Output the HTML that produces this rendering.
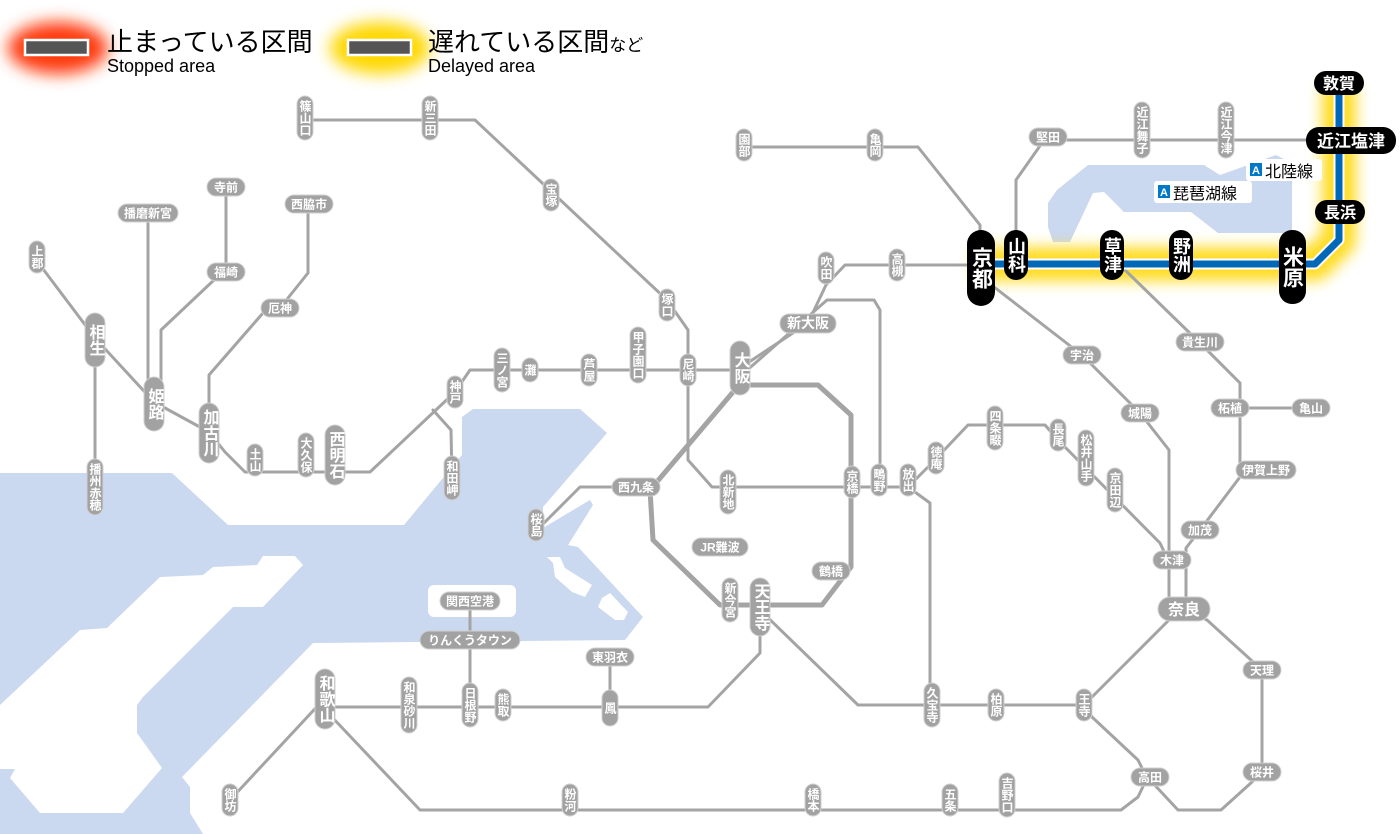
<!DOCTYPE html>
<html><head><meta charset="utf-8">
<style>
html,body{margin:0;padding:0;background:#fff;}
svg{display:block;}
.l{fill:none;stroke:#a4a4a4;stroke-width:3;stroke-linejoin:round;stroke-linecap:round;}
.lp{fill:none;stroke:#a4a4a4;stroke-width:5;stroke-linejoin:round;}
.p{fill:#a2a2a2;stroke:#d0d0d0;stroke-width:1;}
.t{fill:#fff;font-family:"Liberation Sans","Noto Sans CJK JP",sans-serif;font-size:12px;font-weight:bold;text-anchor:middle;}
.v{writing-mode:vertical-rl;}
.T{font-size:16px;}
.b{fill:#000;}
.bt{fill:#fff;font-family:"Liberation Sans","Noto Sans CJK JP",sans-serif;font-weight:bold;text-anchor:middle;}
</style></head><body>
<svg width="1400" height="834" viewBox="0 0 1400 834" xmlns="http://www.w3.org/2000/svg">
<defs>
<filter id="bl" x="-50%" y="-50%" width="200%" height="200%"><feGaussianBlur stdDeviation="7"/></filter>
<filter id="bl2" x="-50%" y="-50%" width="200%" height="200%"><feGaussianBlur stdDeviation="8"/></filter>
</defs>
<!-- sea -->
<polygon fill="#cad8f0" points="0,473 172,473 228,525 404,525 462,455 462,417 473,409 580,409 607,433 543,507 543,528 590,500 593,505 568,545 578,547 643,617 625,640 313,643 182,777 190,787 190,813 203,834 0,834"/>
<polygon fill="#fff" points="263,556 295,556 303,565 263,607 233,607 143,697 137,705 137,733 162,768 123,813 40,813 10,778 15,769 0,769 0,705 80,630 107,628 160,577 203,575 213,567 257,565"/>
<polygon fill="#fff" points="547,557 560,557 565,568 592,585 585,597 572,592 555,577 553,563"/>
<polygon fill="#fff" points="602,598 610,593 628,612 624,620 615,620 598,607"/>
<rect x="428" y="585" width="88" height="32" rx="6" fill="#fff"/>
<!-- lake -->
<polygon fill="#cad8f0" points="1048,227 1048,203 1057,190 1088,165 1204,165 1220,175 1276,155 1292,163 1292,233 1218,233 1191,212 1124,212 1104,192 1093,193 1070,242 1053,242"/>

<!-- legend -->
<ellipse cx="58" cy="48" rx="50" ry="26" fill="#ff3a10" filter="url(#bl2)"/>
<rect x="25" y="40" width="63" height="15" fill="#555" stroke="#fff" stroke-width="2.5"/>
<text x="107" y="51" font-family="'Liberation Sans','Noto Sans CJK JP',sans-serif" font-size="26" fill="#000">止まっている区間</text>
<text x="107" y="72" font-family="'Liberation Sans',sans-serif" font-size="18" fill="#000">Stopped area</text>
<ellipse cx="380" cy="48" rx="50" ry="26" fill="#ffd800" filter="url(#bl2)"/>
<rect x="348" y="40" width="63" height="15" fill="#555" stroke="#fff" stroke-width="2.5"/>
<text x="428" y="51" font-family="'Liberation Sans','Noto Sans CJK JP',sans-serif" font-size="26" fill="#000">遅れている区間<tspan font-size="17">など</tspan></text>
<text x="428" y="72" font-family="'Liberation Sans',sans-serif" font-size="18" fill="#000">Delayed area</text>

<!-- glow for highlighted -->
<path d="M975,264 L1315,264 L1339,240 L1339,85" fill="none" stroke="#ffdc20" stroke-width="34" stroke-linejoin="round" filter="url(#bl)"/>

<!-- gray lines -->
<polyline class="l" points="305,120 475,120 667,300 688,330 688,370"/>
<polyline class="l" points="744,147 918,147 980,225 980,268"/>
<polyline class="l" points="1016,255 1016,180 1042,143 1048,140 1350,140"/>
<polyline class="l" points="980,265 845,265 826,285 808,323 740,368"/>
<polyline class="l" points="745,372 827,300 874,300 880,310 880,487"/>
<polyline class="lp" points="739,385 818,385 851,415 851,567 822,605 720,605 653,540 650,490 739,385"/>
<polyline class="l" points="688,370 688,460 712,487 908,487"/>
<polyline class="l" points="908,487 930,465 968,425 1045,425 1058,440 1160,543 1168,560"/>
<polyline class="l" points="908,487 930,503 930,705"/>
<polyline class="l" points="740,370 470,370 455,392 370,472 245,472 225,452 209,432 154,402 95,338 40,265"/>
<polyline class="l" points="148,402 148,213"/>
<polyline class="l" points="161,400 161,330 214,280 226,272 226,187"/>
<polyline class="l" points="209,432 209,375 263,313 280,308 308,273 308,204"/>
<polyline class="l" points="95,338 95,487"/>
<polyline class="l" points="433,410 451,430 452,478"/>
<polyline class="l" points="636,487 580,487 540,527"/>
<polyline class="l" points="760,605 760,653 708,707 325,707"/>
<polyline class="l" points="470,705 470,601"/>
<polyline class="l" points="610,708 610,657"/>
<polyline class="l" points="325,698 230,800"/>
<polyline class="l" points="330,715 420,810 1121,810 1138,797 1147,778"/>
<polyline class="l" points="1147,778 1138,760 1092,717 1084,705"/>
<polyline class="l" points="1150,780 1178,810 1221,810 1252,782 1262,772 1262,670 1207,620 1184,609"/>
<polyline class="l" points="760,610 858,705 1084,705 1171,618"/>
<polyline class="l" points="985,280 1082,355 1140,413 1169,450 1169,609"/>
<polyline class="l" points="1240,408 1311,408"/>
<polyline class="l" points="1125,270 1200,343 1240,383 1240,477 1200,530 1186,548 1186,609"/>

<!-- highlighted line -->
<path d="M975,264 L1315,264 L1339,240 L1339,85" fill="none" stroke="#fff" stroke-width="11" stroke-linejoin="round"/>
<path d="M975,264 L1315,264 L1339,240 L1339,85" fill="none" stroke="#0068b7" stroke-width="7" stroke-linejoin="round"/>

<!-- small vertical pills -->
<g>
<rect class="p" x="297" y="96" width="16" height="44" rx="8"/><text class="t v" x="305" y="118">篠山口</text>
<rect class="p" x="422" y="96" width="16" height="44" rx="8"/><text class="t v" x="430" y="118">新三田</text>
<rect class="p" x="543" y="179" width="16" height="32" rx="8"/><text class="t v" x="551" y="195">宝塚</text>
<rect class="p" x="736" y="129" width="16" height="32" rx="8"/><text class="t v" x="744" y="145">園部</text>
<rect class="p" x="867" y="129" width="16" height="32" rx="8"/><text class="t v" x="875" y="145">亀岡</text>
<rect class="p" x="29" y="241" width="16" height="32" rx="8"/><text class="t v" x="37" y="257">上郡</text>
<rect class="p" x="87" y="459" width="16" height="56" rx="8"/><text class="t v" x="95" y="487">播州赤穂</text>
<rect class="p" x="247" y="444" width="16" height="32" rx="8"/><text class="t v" x="255" y="460">土山</text>
<rect class="p" x="298" y="433" width="16" height="44" rx="8"/><text class="t v" x="306" y="455">大久保</text>
<rect class="p" x="447" y="376" width="16" height="32" rx="8"/><text class="t v" x="455" y="392">神戸</text>
<rect class="p" x="494" y="348" width="16" height="44" rx="8"/><text class="t v" x="502" y="370">三ノ宮</text>
<rect class="p" x="522" y="358" width="16" height="24" rx="8"/><text class="t v" x="530" y="370">灘</text>
<rect class="p" x="581" y="354" width="16" height="32" rx="8"/><text class="t v" x="589" y="370">芦屋</text>
<rect class="p" x="630" y="327" width="16" height="56" rx="8"/><text class="t v" x="638" y="355">甲子園口</text>
<rect class="p" x="680" y="354" width="16" height="32" rx="8"/><text class="t v" x="688" y="370">尼崎</text>
<rect class="p" x="659" y="289" width="16" height="32" rx="8"/><text class="t v" x="667" y="305">塚口</text>
<rect class="p" x="818" y="252" width="16" height="32" rx="8"/><text class="t v" x="826" y="268">吹田</text>
<rect class="p" x="889" y="249" width="16" height="32" rx="8"/><text class="t v" x="897" y="265">高槻</text>
<rect class="p" x="444" y="456" width="16" height="44" rx="8"/><text class="t v" x="452" y="478">和田岬</text>
<rect class="p" x="528" y="509" width="16" height="32" rx="8"/><text class="t v" x="536" y="525">桜島</text>
<rect class="p" x="720" y="470" width="16" height="44" rx="8"/><text class="t v" x="728" y="492">北新地</text>
<rect class="p" x="844" y="466" width="16" height="32" rx="8"/><text class="t v" x="852" y="482">京橋</text>
<rect class="p" x="871" y="464" width="16" height="32" rx="8"/><text class="t v" x="879" y="480">鴫野</text>
<rect class="p" x="900" y="464" width="16" height="32" rx="8"/><text class="t v" x="908" y="480">放出</text>
<rect class="p" x="928" y="442" width="16" height="32" rx="8"/><text class="t v" x="936" y="458">徳庵</text>
<rect class="p" x="987" y="406" width="16" height="44" rx="8"/><text class="t v" x="995" y="428">四条畷</text>
<rect class="p" x="1050" y="419" width="16" height="32" rx="8"/><text class="t v" x="1058" y="435">長尾</text>
<rect class="p" x="1078" y="430" width="16" height="56" rx="8"/><text class="t v" x="1086" y="458">松井山手</text>
<rect class="p" x="1107" y="468" width="16" height="44" rx="8"/><text class="t v" x="1115" y="490">京田辺</text>
<rect class="p" x="722" y="578" width="16" height="44" rx="8"/><text class="t v" x="730" y="600">新今宮</text>
<rect class="p" x="401" y="677" width="16" height="56" rx="8"/><text class="t v" x="409" y="705">和泉砂川</text>
<rect class="p" x="462" y="683" width="16" height="44" rx="8"/><text class="t v" x="470" y="705">日根野</text>
<rect class="p" x="495" y="689" width="16" height="32" rx="8"/><text class="t v" x="503" y="705">熊取</text>
<rect class="p" x="602" y="690" width="16" height="36" rx="8"/><text class="t v" x="610" y="708">鳳</text>
<rect class="p" x="222" y="784" width="16" height="32" rx="8"/><text class="t v" x="230" y="800">御坊</text>
<rect class="p" x="562" y="784" width="16" height="32" rx="8"/><text class="t v" x="570" y="800">粉河</text>
<rect class="p" x="805" y="784" width="16" height="32" rx="8"/><text class="t v" x="813" y="800">橋本</text>
<rect class="p" x="942" y="784" width="16" height="32" rx="8"/><text class="t v" x="950" y="800">五条</text>
<rect class="p" x="999" y="773" width="16" height="44" rx="8"/><text class="t v" x="1007" y="795">吉野口</text>
<rect class="p" x="924" y="683" width="16" height="44" rx="8"/><text class="t v" x="932" y="705">久宝寺</text>
<rect class="p" x="988" y="689" width="16" height="32" rx="8"/><text class="t v" x="996" y="705">柏原</text>
<rect class="p" x="1076" y="689" width="16" height="32" rx="8"/><text class="t v" x="1084" y="705">王寺</text>
<rect class="p" x="1134" y="102" width="16" height="56" rx="8"/><text class="t v" x="1142" y="130">近江舞子</text>
<rect class="p" x="1218" y="102" width="16" height="56" rx="8"/><text class="t v" x="1226" y="130">近江今津</text>
</g>
<!-- large vertical pills -->
<g>
<rect class="p" x="85" y="313" width="20" height="54" rx="10"/><text class="t T v" x="95" y="340">相生</text>
<rect class="p" x="144" y="377" width="20" height="54" rx="10"/><text class="t T v" x="154" y="404">姫路</text>
<rect class="p" x="199" y="403" width="20" height="60" rx="10"/><text class="t T v" x="209" y="433">加古川</text>
<rect class="p" x="325" y="425" width="20" height="60" rx="10"/><text class="t T v" x="335" y="455">西明石</text>
<rect class="p" x="730" y="341" width="20" height="54" rx="10"/><text class="t T v" x="740" y="368">大阪</text>
<rect class="p" x="750" y="578" width="20" height="58" rx="10"/><text class="t T v" x="760" y="607">天王寺</text>
<rect class="p" x="315" y="669" width="20" height="60" rx="10"/><text class="t T v" x="325" y="699">和歌山</text>
</g>
<!-- horizontal pills -->
<g>
<rect class="p" x="207" y="178" width="38" height="18" rx="9"/><text class="t" x="226" y="191.5">寺前</text>
<rect class="p" x="118" y="204" width="60" height="18" rx="9"/><text class="t" x="148" y="217.5">播磨新宮</text>
<rect class="p" x="285" y="195" width="48" height="18" rx="9"/><text class="t" x="309" y="208.5">西脇市</text>
<rect class="p" x="207" y="263" width="38" height="18" rx="9"/><text class="t" x="226" y="276.5">福崎</text>
<rect class="p" x="261" y="299" width="38" height="18" rx="9"/><text class="t" x="280" y="312.5">厄神</text>
<rect class="p" x="780" y="314" width="56" height="19" rx="9"/><text class="t" x="808" y="328" style="font-size:14px">新大阪</text>
<rect class="p" x="612" y="478" width="48" height="18" rx="9"/><text class="t" x="636" y="491.5">西九条</text>
<rect class="p" x="692" y="538" width="56" height="18" rx="9"/><text class="t" x="720" y="551.5">JR難波</text>
<rect class="p" x="812" y="562" width="38" height="18" rx="9"/><text class="t" x="831" y="575.5">鶴橋</text>
<rect class="p" x="440" y="592" width="60" height="18" rx="9"/><text class="t" x="470" y="605.5">関西空港</text>
<rect class="p" x="420" y="631" width="100" height="18" rx="9"/><text class="t" x="470" y="644.5">りんくうタウン</text>
<rect class="p" x="586" y="648" width="48" height="18" rx="9"/><text class="t" x="610" y="661.5">東羽衣</text>
<rect class="p" x="1029" y="128" width="38" height="18" rx="9"/><text class="t" x="1048" y="141.5">堅田</text>
<rect class="p" x="1063" y="346" width="38" height="18" rx="9"/><text class="t" x="1082" y="359.5">宇治</text>
<rect class="p" x="1121" y="404" width="38" height="18" rx="9"/><text class="t" x="1140" y="417.5">城陽</text>
<rect class="p" x="1176" y="333" width="48" height="18" rx="9"/><text class="t" x="1200" y="346.5">貴生川</text>
<rect class="p" x="1211" y="399" width="38" height="18" rx="9"/><text class="t" x="1230" y="412.5">柘植</text>
<rect class="p" x="1292" y="399" width="38" height="18" rx="9"/><text class="t" x="1311" y="412.5">亀山</text>
<rect class="p" x="1236" y="461" width="60" height="18" rx="9"/><text class="t" x="1266" y="474.5">伊賀上野</text>
<rect class="p" x="1181" y="521" width="38" height="18" rx="9"/><text class="t" x="1200" y="534.5">加茂</text>
<rect class="p" x="1153" y="551" width="38" height="18" rx="9"/><text class="t" x="1172" y="564.5">木津</text>
<rect class="p" x="1158" y="597" width="52" height="24" rx="12"/><text class="t T" x="1184" y="615">奈良</text>
<rect class="p" x="1243" y="661" width="38" height="18" rx="9"/><text class="t" x="1262" y="674.5">天理</text>
<rect class="p" x="1243" y="763" width="38" height="18" rx="9"/><text class="t" x="1262" y="776.5">桜井</text>
<rect class="p" x="1131" y="768" width="38" height="18" rx="9"/><text class="t" x="1150" y="781.5">高田</text>
</g>
<!-- black highlighted stations -->
<g>
<rect class="b" x="967" y="230" width="28" height="76" rx="14"/><text class="bt v" x="981" y="268" font-size="21">京都</text>
<rect class="b" x="1004" y="230" width="24" height="50" rx="12"/><text class="bt v" x="1016" y="255" font-size="18">山科</text>
<rect class="b" x="1100" y="230" width="24" height="50" rx="12"/><text class="bt v" x="1112" y="255" font-size="18">草津</text>
<rect class="b" x="1169" y="230" width="24" height="50" rx="12"/><text class="bt v" x="1181" y="255" font-size="18">野洲</text>
<rect class="b" x="1279" y="230" width="27" height="74" rx="13"/><text class="bt v" x="1292" y="267" font-size="21">米原</text>
<rect class="b" x="1314" y="71" width="50" height="24" rx="12"/><text class="bt" x="1339" y="89" font-size="16">敦賀</text>
<rect class="b" x="1306" y="127" width="90" height="27" rx="13"/><text class="bt" x="1351" y="147" font-size="17">近江塩津</text>
<rect class="b" x="1315" y="200" width="50" height="24" rx="12"/><text class="bt" x="1340" y="218" font-size="16">長浜</text>
</g>
<!-- line labels -->
<rect x="1246" y="159" width="76" height="22" rx="3" fill="#fff"/>
<rect x="1250" y="163" width="12" height="13" fill="#0078c8"/>
<text x="1256" y="174" font-family="'Liberation Sans',sans-serif" font-size="11" font-weight="bold" fill="#fff" text-anchor="middle">A</text>
<text x="1265" y="177" font-family="'Liberation Sans','Noto Sans CJK JP',sans-serif" font-size="16" fill="#000">北陸線</text>
<rect x="1154" y="181" width="98" height="22" rx="3" fill="#fff"/>
<rect x="1158" y="185" width="12" height="13" fill="#0078c8"/>
<text x="1164" y="196" font-family="'Liberation Sans',sans-serif" font-size="11" font-weight="bold" fill="#fff" text-anchor="middle">A</text>
<text x="1173" y="199" font-family="'Liberation Sans','Noto Sans CJK JP',sans-serif" font-size="16" fill="#000">琵琶湖線</text>
</svg>
</body></html>
